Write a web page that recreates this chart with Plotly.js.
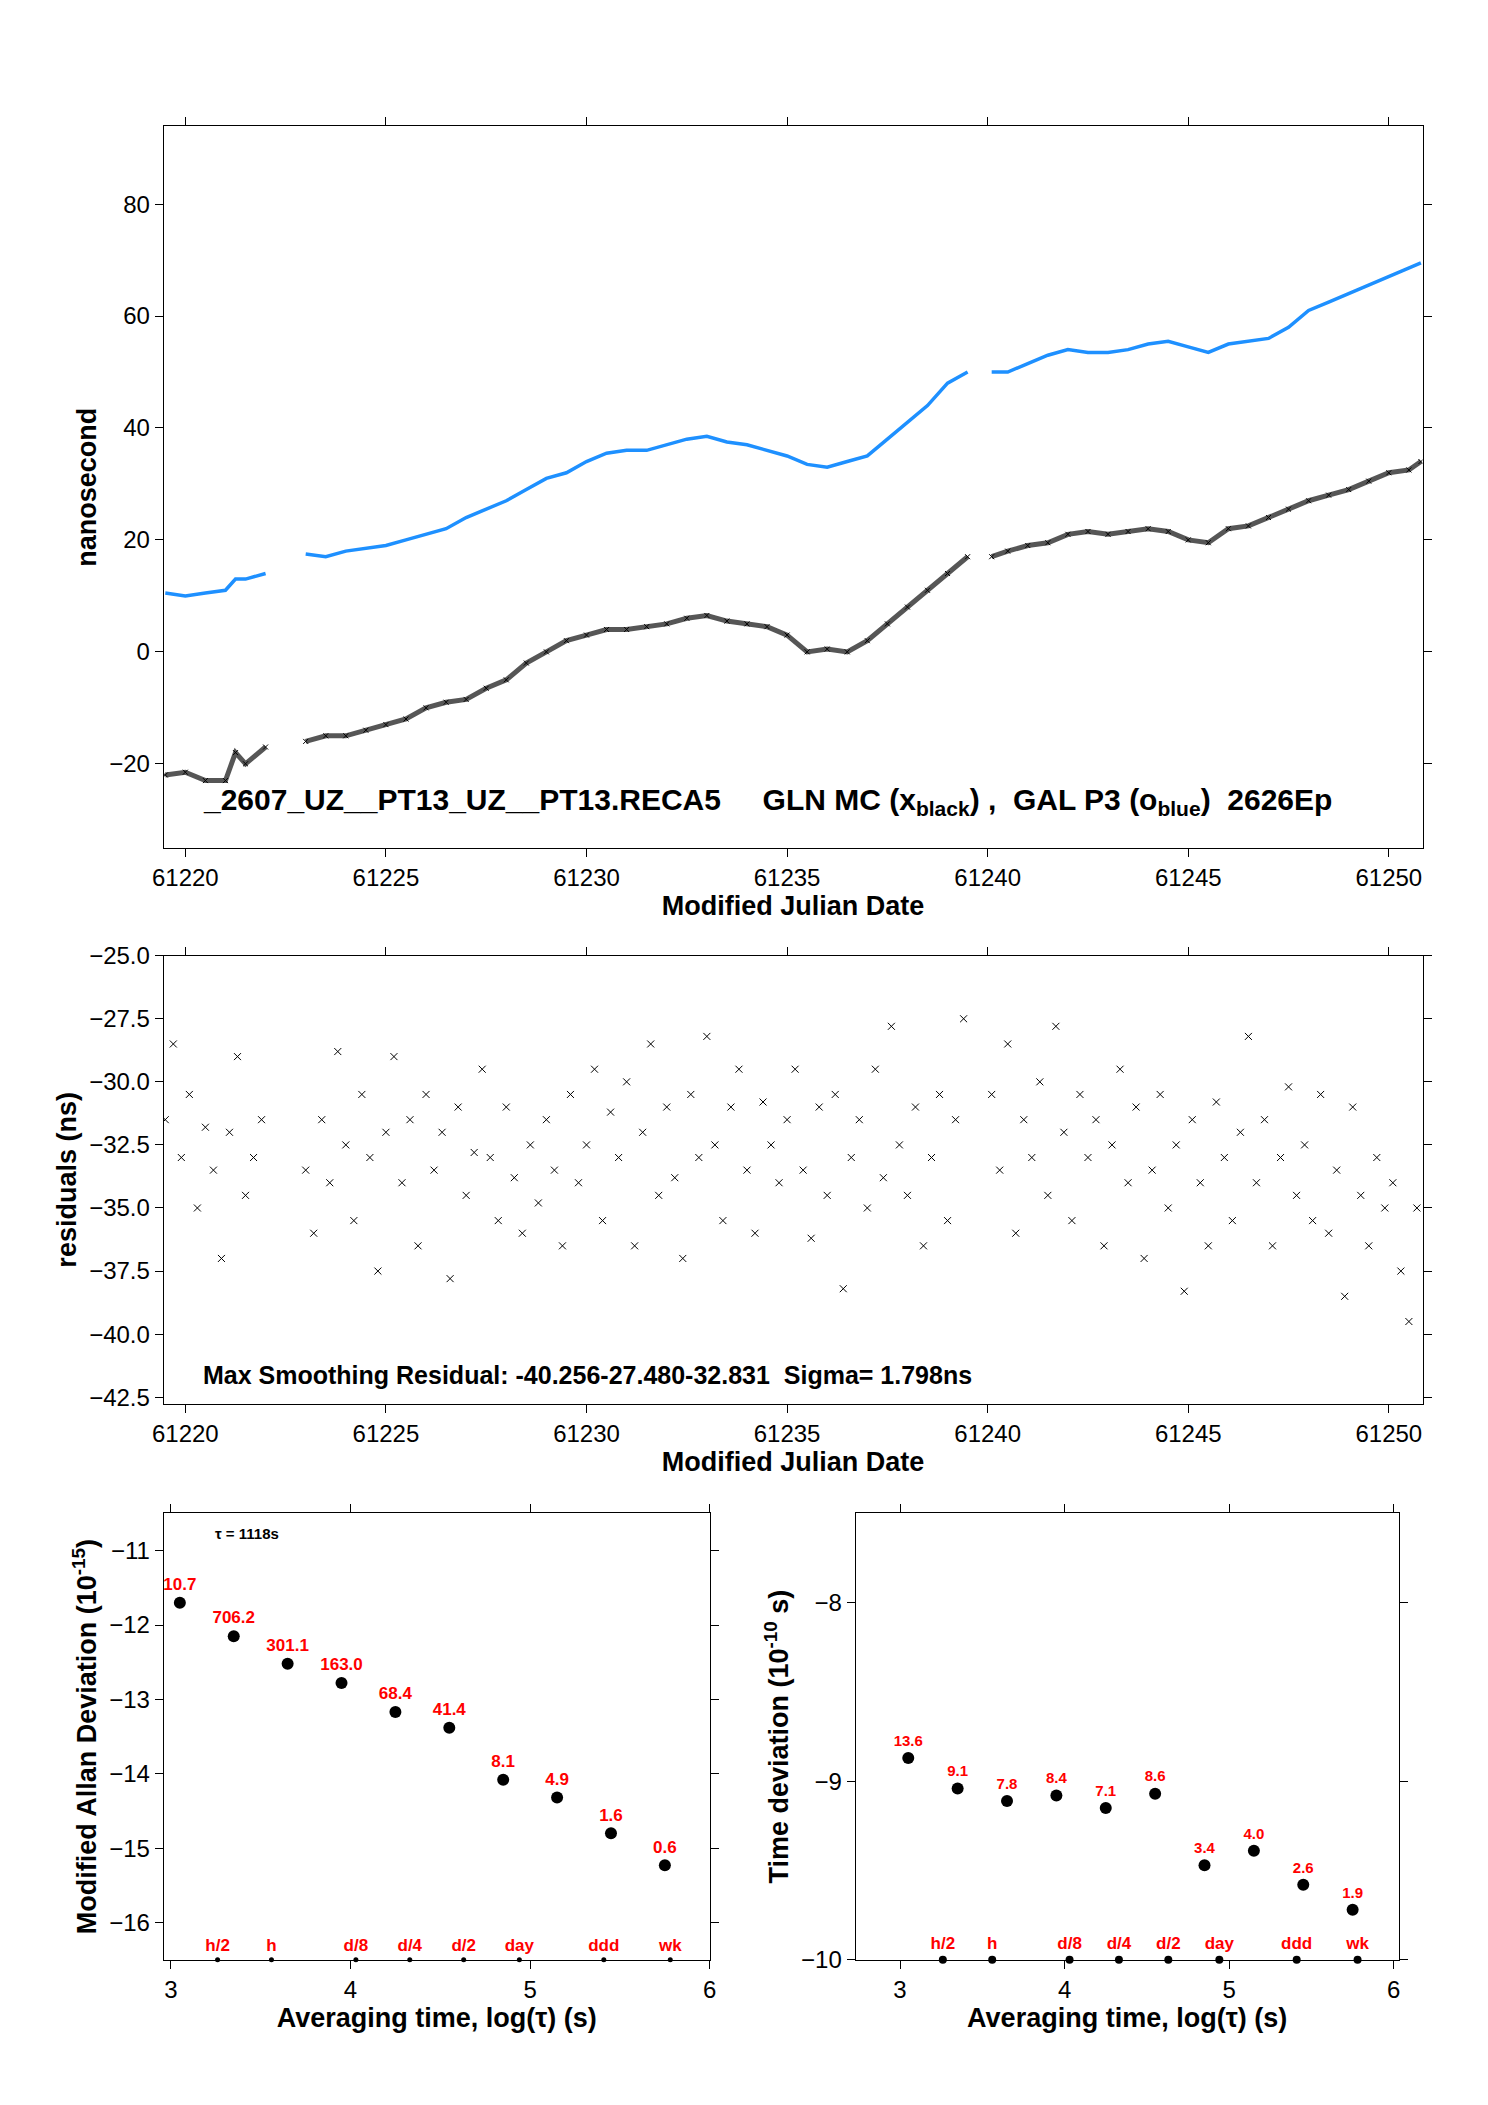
<!DOCTYPE html>
<html><head><meta charset="utf-8">
<script src="https://cdn.plot.ly/plotly-3.0.1.min.js"></script>
<style>body{margin:0;background:#fff}#chart{width:1488px;height:2105px}</style>
</head><body><div id="chart"></div>
<script>
// top panel: clock offsets (ns), read at ~half-day steps
const mjdBlue = [61219.5,61220,61220.5,61221,61221.25,61221.5,61222,null,
  61223,61223.5,61224,61224.5,61225,61225.5,61226,61226.5,61227,61227.5,61228,61228.5,61229,61229.5,
  61230,61230.5,61231,61231.5,61232,61232.5,61233,61233.5,61234,61234.5,61235,61235.5,61236,61236.5,
  61237,61237.5,61238,61238.5,61239,61239.5,null,
  61240.1,61240.5,61241,61241.5,61242,61242.5,61243,61243.5,61244,61244.5,61245,61245.5,61246,61246.5,
  61247,61247.5,61248,61248.5,61249,61249.5,61250,61250.5,61250.8];
const galBlue = [10.5,10,10.5,11,13,13,14,null,
  17.5,17,18,18.5,19,20,21,22,24,25.5,27,29,31,32,
  34,35.5,36,36,37,38,38.5,37.5,37,36,35,33.5,33,34,
  35,38,41,44,48,50,null,
  50,50,51.5,53,54,53.5,53.5,54,55,55.5,54.5,53.5,55,55.5,
  56,58,61,62.5,64,65.5,67,68.5,69.5];
const glnBlack = [-22,-21.5,-23,-23,-18,-20,-17,null,
  -16,-15,-15,-14,-13,-12,-10,-9,-8.5,-6.5,-5,-2,0,2,
  3,4,4,4.5,5,6,6.5,5.5,5,4.5,3,0,0.5,0,
  2,5,8,11,14,17,null,
  17,18,19,19.5,21,21.5,21,21.5,22,21.5,20,19.5,22,22.5,
  24,25.5,27,28,29,30.5,32,32.5,34];

// middle panel: smoothing residuals (ns)
const mjdRes = [61219.5,61219.7,61219.9,61220.1,61220.3,61220.5,61220.7,61220.9,61221.1,61221.3,61221.5,61221.7,61221.9,
  61223,61223.2,61223.4,61223.6,61223.8,61224,61224.2,61224.4,61224.6,61224.8,61225,61225.2,61225.4,61225.6,61225.8,
  61226,61226.2,61226.4,61226.6,61226.8,61227,61227.2,61227.4,61227.6,61227.8,61228,61228.2,61228.4,61228.6,61228.8,
  61229,61229.2,61229.4,61229.6,61229.8,61230,61230.2,61230.4,61230.6,61230.8,61231,61231.2,61231.4,61231.6,61231.8,
  61232,61232.2,61232.4,61232.6,61232.8,61233,61233.2,61233.4,61233.6,61233.8,61234,61234.2,61234.4,61234.6,61234.8,
  61235,61235.2,61235.4,61235.6,61235.8,61236,61236.2,61236.4,61236.6,61236.8,61237,61237.2,61237.4,61237.6,61237.8,
  61238,61238.2,61238.4,61238.6,61238.8,61239,61239.2,61239.4,
  61240.1,61240.3,61240.5,61240.7,61240.9,61241.1,61241.3,61241.5,61241.7,61241.9,61242.1,61242.3,61242.5,61242.7,61242.9,
  61243.1,61243.3,61243.5,61243.7,61243.9,61244.1,61244.3,61244.5,61244.7,61244.9,61245.1,61245.3,61245.5,61245.7,61245.9,
  61246.1,61246.3,61246.5,61246.7,61246.9,61247.1,61247.3,61247.5,61247.7,61247.9,61248.1,61248.3,61248.5,61248.7,61248.9,
  61249.1,61249.3,61249.5,61249.7,61249.9,61250.1,61250.3,61250.5,61250.7];
const resid = [-31.5,-28.5,-33,-30.5,-35,-31.8,-33.5,-37,-32,-29,-34.5,-33,-31.5,
  -33.5,-36,-31.5,-34,-28.8,-32.5,-35.5,-30.5,-33,-37.5,-32,-29,-34,-31.5,-36.5,
  -30.5,-33.5,-32,-37.8,-31,-34.5,-32.8,-29.5,-33,-35.5,-31,-33.8,-36,-32.5,-34.8,
  -31.5,-33.5,-36.5,-30.5,-34,-32.5,-29.5,-35.5,-31.2,-33,-30,-36.5,-32,-28.5,-34.5,
  -31,-33.8,-37,-30.5,-33,-28.2,-32.5,-35.5,-31,-29.5,-33.5,-36,-30.8,-32.5,-34,
  -31.5,-29.5,-33.5,-36.2,-31,-34.5,-30.5,-38.2,-33,-31.5,-35,-29.5,-33.8,-27.8,-32.5,
  -34.5,-31,-36.5,-33,-30.5,-35.5,-31.5,-27.5,
  -30.5,-33.5,-28.5,-36,-31.5,-33,-30,-34.5,-27.8,-32,-35.5,-30.5,-33,-31.5,-36.5,
  -32.5,-29.5,-34,-31,-37,-33.5,-30.5,-35,-32.5,-38.3,-31.5,-34,-36.5,-30.8,-33,
  -35.5,-32,-28.2,-34,-31.5,-36.5,-33,-30.2,-34.5,-32.5,-35.5,-30.5,-36,-33.5,-38.5,
  -31,-34.5,-36.5,-33,-35,-34,-37.5,-39.5,-35];

// bottom panels: stability statistics
const logTau = [3.05,3.35,3.65,3.95,4.25,4.55,4.85,5.15,5.45,5.75];
const madev = [-11.7,-12.15,-12.52,-12.78,-13.17,-13.38,-14.08,-14.32,-14.8,-15.23];
const madevLbl = ['10.7','706.2','301.1','163.0','68.4','41.4','8.1','4.9','1.6','0.6'];
const tdev = [-8.87,-9.04,-9.11,-9.08,-9.15,-9.07,-9.47,-9.39,-9.58,-9.72];
const tdevLbl = ['13.6','9.1','7.8','8.4','7.1','8.6','3.4','4.0','2.6','1.9'];
const markTau = [3.26,3.56,4.03,4.33,4.63,4.94,5.41,5.78];
const markLbl = ['h/2','h','d/8','d/4','d/2','day','ddd','wk'];

const F = 'Liberation Sans, Arial, sans-serif';
const RED = '#ff0000';
function ax(extra) {
  return Object.assign({showgrid:false, zeroline:false, showline:true, linecolor:'#000', linewidth:1,
    mirror:'ticks', ticks:'outside', ticklen:8, tickcolor:'#000',
    tickfont:{family:F, size:24, color:'#000'}}, extra);
}
function ttl(t) { return {text:t, font:{family:F, size:27, color:'#000', weight:'bold'}, standoff:4}; }

const traces = [
  {x:mjdBlue, y:glnBlack, mode:'lines+markers', line:{color:'rgba(30,30,30,0.75)', width:5},
   marker:{symbol:'x-thin', size:5, line:{color:'#000', width:1}}, xaxis:'x', yaxis:'y', connectgaps:false},
  {x:mjdBlue, y:galBlue, mode:'lines', line:{color:'#1e90ff', width:3.5}, xaxis:'x', yaxis:'y', connectgaps:false},
  {x:mjdRes, y:resid, mode:'markers', marker:{symbol:'x-thin', size:7, line:{color:'#000', width:1}}, xaxis:'x2', yaxis:'y2'},
  {x:logTau, y:madev, mode:'markers+text', text:madevLbl, textposition:'top center',
   textfont:{family:F, size:17, color:RED, weight:'bold'}, marker:{color:'#000', size:12}, xaxis:'x3', yaxis:'y3', cliponaxis:false},
  {x:markTau, y:markTau.map(() => -16.5), mode:'markers+text', text:markLbl, textposition:'top center',
   textfont:{family:F, size:17, color:RED, weight:'bold'}, marker:{color:'#000', size:5}, xaxis:'x3', yaxis:'y3', cliponaxis:false},
  {x:logTau, y:tdev, mode:'markers+text', text:tdevLbl, textposition:'top center',
   textfont:{family:F, size:15, color:RED, weight:'bold'}, marker:{color:'#000', size:12}, xaxis:'x4', yaxis:'y4', cliponaxis:false},
  {x:markTau, y:markTau.map(() => -10), mode:'markers+text', text:markLbl, textposition:'top center',
   textfont:{family:F, size:17, color:RED, weight:'bold'}, marker:{color:'#000', size:8}, xaxis:'x4', yaxis:'y4', cliponaxis:false}
];

const layout = {
  width:1488, height:2105, showlegend:false, paper_bgcolor:'#fff', plot_bgcolor:'#fff',
  margin:{l:0, r:0, t:0, b:0}, font:{family:F, color:'#000'},
  xaxis: ax({domain:[0.110,0.956], anchor:'y', range:[61219.46,61250.84], dtick:5, tickformat:'d',
    title:ttl('Modified Julian Date')}),
  yaxis: ax({domain:[0.597,0.940], anchor:'x', range:[-35.1,93.9], dtick:20, title:ttl('nanosecond')}),
  xaxis2: ax({domain:[0.110,0.956], anchor:'y2', range:[61219.46,61250.84], dtick:5, tickformat:'d',
    title:ttl('Modified Julian Date')}),
  yaxis2: ax({domain:[0.333,0.546], anchor:'x2', range:[-42.77,-25], dtick:2.5, tickformat:'.1f', title:ttl('residuals (ns)')}),
  xaxis3: ax({domain:[0.110,0.477], anchor:'y3', range:[2.96,6.0], dtick:1, title:ttl('Averaging time, log(τ) (s)')}),
  yaxis3: ax({domain:[0.069,0.281], anchor:'x3', range:[-16.5,-10.5], dtick:1, title:ttl('Modified Allan Deviation (10<sup>-15</sup>)')}),
  xaxis4: ax({domain:[0.575,0.940], anchor:'y4', range:[2.73,6.03], dtick:1, title:ttl('Averaging time, log(τ) (s)')}),
  yaxis4: ax({domain:[0.069,0.281], anchor:'x4', range:[-10,-7.5], dtick:1, title:ttl('Time deviation (10<sup>-10</sup> s)')}),
  annotations:[
    {xref:'x domain', yref:'y domain', x:0.03, y:0.065, xanchor:'left', yanchor:'middle', showarrow:false,
     text:'_2607_UZ__PT13_UZ__PT13.RECA5     GLN MC (x<sub>black</sub>) ,  GAL P3 (o<sub>blue</sub>)  2626Ep',
     font:{family:F, size:30, color:'#000', weight:'bold'}},
    {xref:'x2 domain', yref:'y2 domain', x:0.03, y:0.065, xanchor:'left', yanchor:'middle', showarrow:false,
     text:'Max Smoothing Residual: -40.256-27.480-32.831  Sigma= 1.798ns',
     font:{family:F, size:25, color:'#000', weight:'bold'}},
    {xref:'x3 domain', yref:'y3 domain', x:0.09, y:0.955, xanchor:'left', yanchor:'middle', showarrow:false,
     text:'τ = 1118s', font:{family:F, size:15, color:'#000', weight:'bold'}}
  ]
};
Plotly.newPlot('chart', traces, layout, {displayModeBar:false});
</script></body></html>
